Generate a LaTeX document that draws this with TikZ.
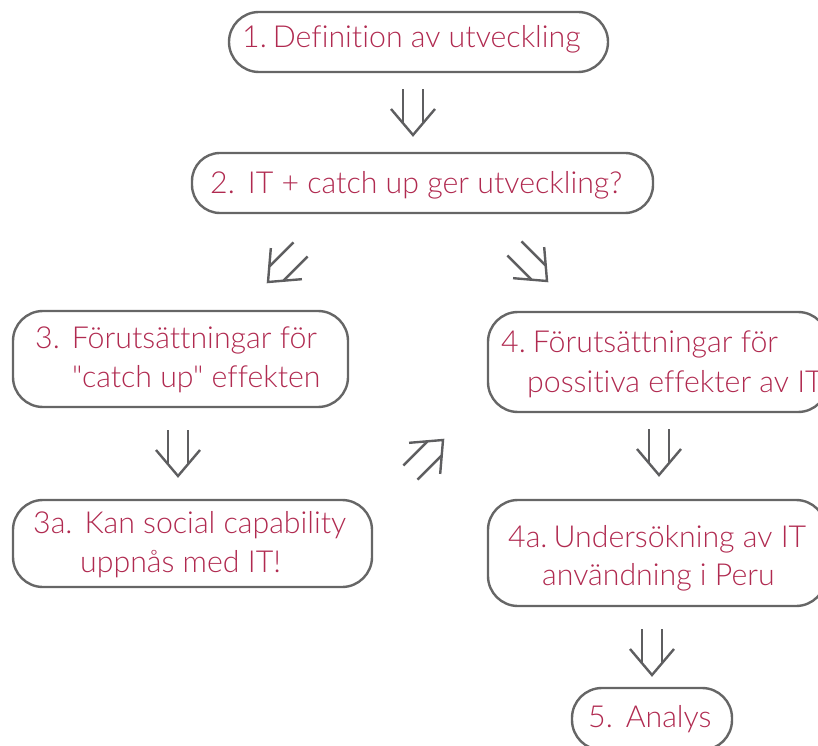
\documentclass[tikz,border=0pt]{standalone}
\usepackage{fontspec}
\IfFontExistsTF{Lato Light}{\setmainfont{Lato Light}[Ligatures={NoCommon,TeXOff}]}{\setmainfont{Lato}[Ligatures={NoCommon,TeXOff}]}
\definecolor{txtred}{HTML}{B02A50}
\definecolor{boxgray}{HTML}{666666}
\definecolor{arrgray}{HTML}{5E5E60}
\begin{document}
\begin{tikzpicture}[x=1pt,y=1pt,
  box/.style={draw=boxgray, line width=2.4pt, rounded corners=30pt, rectangle, inner sep=0pt},
  lbl/.style={anchor=base west, inner sep=0pt, text=txtred, font=\fontsize{30.3}{34}\selectfont},
  arrowline/.style={draw=arrgray, line width=2.4pt},
  dblarrow/.pic={\draw[arrowline] (-22,26) -- (0,0) -- (22,26);
                 \draw[arrowline] (-10,11.8) -- (-10,46) (10,11.8) -- (10,46);}]
\useasboundingbox (0,0) rectangle (818,745);
\clip (0,0) rectangle (818,745);
% boxes
\node[box, minimum width=379pt, minimum height=60pt] (b1) at (418.5,703) {};
\node[box, minimum width=461pt, minimum height=60pt, rounded corners=28pt] (b2) at (422.5,562) {};
\node[box, minimum width=335pt, minimum height=96pt] (b3) at (180.5,386) {};
\node[box, minimum width=340pt, minimum height=100pt] (b4) at (658,383) {};
\node[box, minimum width=359pt, minimum height=87pt] (b3a) at (192.5,201.5) {};
\node[box, minimum width=338pt, minimum height=106pt] (b4a) at (657,192) {};
\node[box, minimum width=160pt, minimum height=62pt] (b5) at (652,26) {};
% texts
\node[lbl] (t1) at (242,697) {1.\hspace{6pt}Definition av utveckling};
\node[lbl] (t2) at (210,551) {2.\hspace{13pt}IT + catch up ger utveckling?};
\node[lbl] (t3a) at (35,396) {3.\hspace{12pt}Förutsättningar för};
\node[lbl] (t3b) at (72,358) {"catch up" effekten};
\node[lbl] (t4a) at (501,392) {4.\hspace{7pt}Förutsättningar för};
\node[lbl] (t4b) at (527,353) {possitiva effekter av IT};
\node[lbl] (t3c) at (33,212) {3a.\hspace{12pt}Kan social capability};
\node[lbl] (t3d) at (80,173) {uppnås med IT!};
\node[lbl] (t4c) at (508,198) {4a.\hspace{6pt}Undersökning av IT};
\node[lbl] (t4d) at (542,160) {användning i Peru};
\node[lbl] (t5) at (588,18) {5.\hspace{13pt}Analys};
% arrows
\pic at (413,610) {dblarrow};
\pic[rotate=-45] at (268,463) {dblarrow};
\pic[rotate=45] at (547,464) {dblarrow};
\pic at (178,269) {dblarrow};
\pic[rotate=135] at (443,305) {dblarrow};
\pic at (659,270) {dblarrow};
\pic at (652,70) {dblarrow};
\end{tikzpicture}
\end{document}
